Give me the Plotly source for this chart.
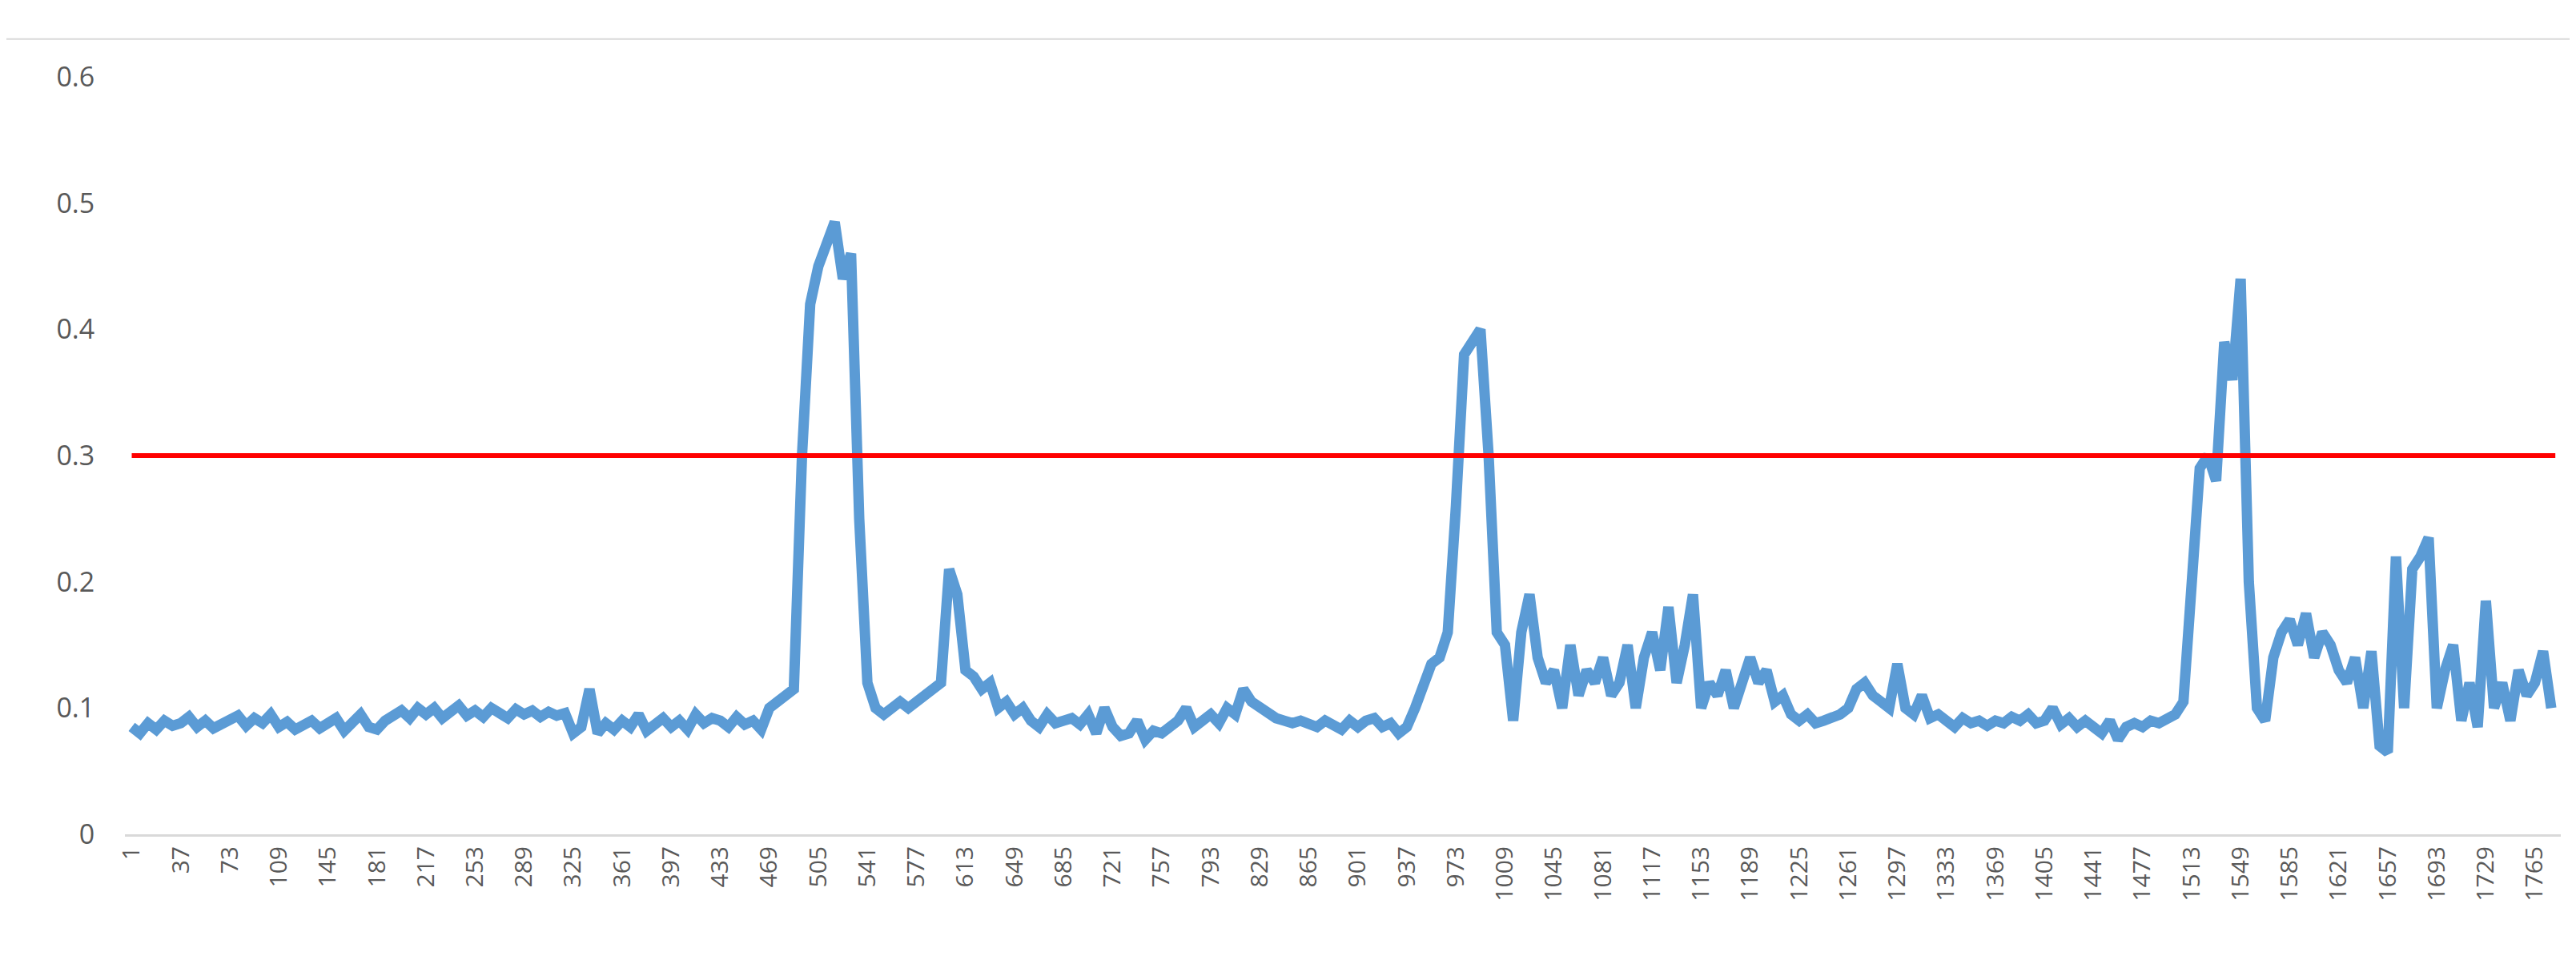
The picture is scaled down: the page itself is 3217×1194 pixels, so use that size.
import plotly.graph_objects as go

# valores, un punto cada 6 muestras (bloques de 36)
x_vals = list(range(1, 1778, 6))
y_vals = [
    .085, .08, .088, .083, .09, .086,
    .088, .093, .085, .09, .084, .087,
    .09, .094, .086, .092, .088, .095,
    .085, .089, .083, .087, .09, .084,
    .088, .092, .082, .09, .095, .085,
    .083, .09, .094, .098, .092, .1,
    .095, .1, .092, .097, .102, .094,
    .098, .093, .1, .096, .092, .099,
    .095, .098, .093, .097, .094, .096,
    .08, .085, .115, .08, .088, .083,
    .09, .085, .095, .082, .088, .092,
    .085, .09, .083, .095, .088, .092,
    .09, .085, .093, .087, .09, .083,
    .1, .105, .11, .115, .3, .42,
    .45, .47, .485, .44, .46, .25,
    .12, .1, .095, .1, .105, .1,
    .105, .11, .115, .12, .21, .19,
    .13, .125, .115, .12, .1, .105,
    .095, .1, .09, .085, .095, .088,
    .09, .092, .087, .095, .08, .1,
    .085, .078, .08, .09, .075, .082,
    .08, .085, .09, .1, .085, .09,
    .095, .088, .1, .095, .115, .105,
    .1, .095, .092, .09, .088, .09,
    .088, .085, .09, .087, .083, .09,
    .085, .09, .092, .085, .088, .08,
    .085, .1, .12, .135, .14, .16,
    .26, .38, .39, .4, .3, .16,
    .15, .09, .16, .19, .14, .12,
    .13, .1, .15, .11, .13, .12,
    .14, .11, .12, .15, .1, .14,
    .16, .13, .18, .12, .15, .19,
    .1, .12, .11, .13, .1, .12,
    .14, .12, .13, .105, .11, .095,
    .09, .095, .088, .09, .092, .095,
    .1, .115, .12, .11, .105, .1,
    .135, .1, .095, .11, .092, .095,
    .09, .085, .092, .088, .09, .086,
    .09, .088, .093, .09, .095, .088,
    .09, .1, .087, .092, .085, .09,
    .085, .08, .09, .075, .085, .088,
    .085, .09, .088, .092, .095, .105,
    .2, .29, .3, .28, .39, .36,
    .44, .2, .1, .09, .14, .16,
    .17, .15, .175, .14, .16, .15,
    .13, .12, .14, .1, .145, .07,
    .065, .22, .1, .21, .22, .235,
    .1, .13, .15, .09, .12, .085,
    .185, .1, .12, .09, .13, .11,
    .12, .145, .1,
]
threshold = 0.3
tick_labels = list(range(1, 1780, 36))

fig = go.Figure()
fig.add_trace(go.Scatter(x=x_vals, y=y_vals, mode="lines",
                         line=dict(color="#5b9bd5", width=13), showlegend=False))
fig.add_trace(go.Scatter(x=[1, 1780], y=[threshold, threshold], mode="lines",
                         line=dict(color="#ff0000", width=6), showlegend=False))

fig.update_layout(
    width=3217, height=1194,
    margin=dict(l=148, r=27, t=88, b=160),
    plot_bgcolor="white", paper_bgcolor="white",
    font=dict(family="Open Sans", size=28, color="#595959"),
    xaxis=dict(
        range=[-4, 1784], tickvals=tick_labels, ticktext=[str(t) for t in tick_labels],
        tickangle=-90, showgrid=False, zeroline=False,
        showline=True, linecolor="#d9d9d9", linewidth=3, ticks="",
        tickfont=dict(size=30),
    ),
    yaxis=dict(
        range=[0, 0.6], dtick=0.1, tickformat="~g", showgrid=False, zeroline=False,
        showline=False, tickfont=dict(size=34), ticklen=30, ticks="outside", tickcolor="white",
    ),
    shapes=[dict(type="line", xref="paper", yref="paper", x0=-0.05, x1=1.01, y0=1.05, y1=1.05,
                 line=dict(color="#d9d9d9", width=2))],
)

fig.write_html("out.html")
